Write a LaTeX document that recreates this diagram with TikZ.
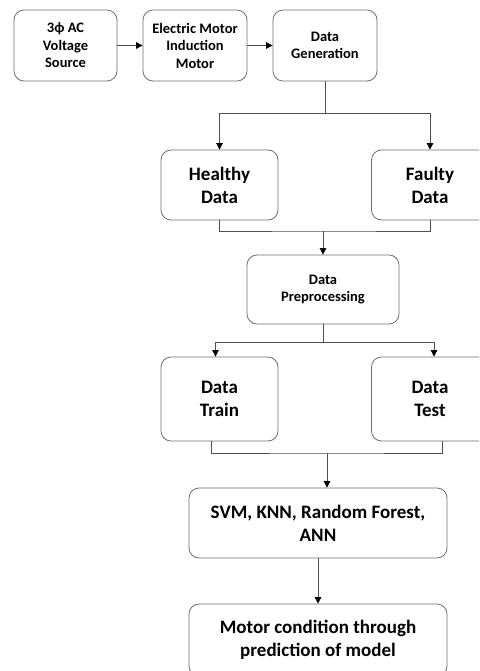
\documentclass[tikz,border=0pt]{standalone}
\usepackage{fontspec}
\setmainfont{Carlito}
\usetikzlibrary{positioning, arrows.meta}
\definecolor{boxgray}{RGB}{110,110,110}
\definecolor{linegray}{RGB}{80,80,80}
\tikzset{
x=1pt, y=-1pt, % pixel-like units, y going down
>={Triangle[length=6.5pt, width=6.5pt, color=black]}, % small solid black arrow heads
block/.style={draw=boxgray, line width=0.8pt, rounded corners=10pt, align=center, font=\bfseries, inner sep=2pt}, % every box
small/.style={block, font=\fontsize{14.5}{17.5}\selectfont\bfseries}, % top row and preprocessing
big/.style={block, font=\fontsize{19}{23}\selectfont\bfseries}, % data and model boxes
link/.style={draw=linegray, line width=0.8pt}, % connector lines
}

\begin{document}
\begin{tikzpicture}
      \useasboundingbox (0,0) rectangle (479,671);
      \clip (0,0) rectangle (479,671);

      % acquisition chain
      \node[small, minimum width=103pt, minimum height=71pt] (src) at (65.5,45.5) {3ϕ AC\\Voltage\\Source};
      \node[small, minimum width=104pt, minimum height=71pt] (motor) at (195,45.5) {Electric Motor\\Induction\\Motor};
      \node[small, minimum width=104pt, minimum height=71pt] (gen) at (325,45.5) {Data\\Generation};

      % split of the data
      \node[big, minimum width=117pt, minimum height=70pt] (healthy) at (219.5,185) {Healthy\\Data};
      \node[big, minimum width=117pt, minimum height=70pt] (faulty) at (430,185) {Faulty\\Data};
      \node[small, minimum width=152pt, minimum height=69pt] (prep) at (323,289.5) {Data\\Preprocessing};
      \node[big, minimum width=117pt, minimum height=84pt] (train) at (219.5,399) {Data\\Train};
      \node[big, minimum width=117pt, minimum height=84pt] (test) at (430,399) {Data\\Test};

      % models and result
      \node[big, minimum width=258pt, minimum height=70pt] (algo) at (318,523) {SVM, KNN, Random Forest,\\ANN};
      \node[big, minimum width=258pt, minimum height=72pt] (result) at (318,640) {Motor condition through\\prediction of model};

      \coordinate (split1) at (325,113);
      \coordinate (join1) at (323,231);
      \coordinate (split2) at (323,342);
      \coordinate (join2) at (327,453);

      \draw[link, ->] (src) -- (motor);
      \draw[link, ->] (motor) -- (gen);
      \draw[link] (gen) -- (split1);
      \draw[link, ->] (split1) -| (healthy);
      \draw[link, ->] (split1) -| (faulty);
      \draw[link] (healthy) |- (join1) -| (faulty);
      \draw[link, ->] (join1) -- (prep);
      \draw[link] (prep) -- (split2);
      \draw[link, ->] (split2) -| ([xshift=-4pt]train.north);
      \draw[link, ->] (split2) -| ([xshift=4pt]test.north);
      \draw[link] ([xshift=-8.5pt]train.south) |- (join2) -| ([xshift=12pt]test.south);
      \draw[link, ->] (join2) -- (join2 |- algo.north);
      \draw[link, ->] (algo) -- (result);
    \end{tikzpicture}
\end{document}
